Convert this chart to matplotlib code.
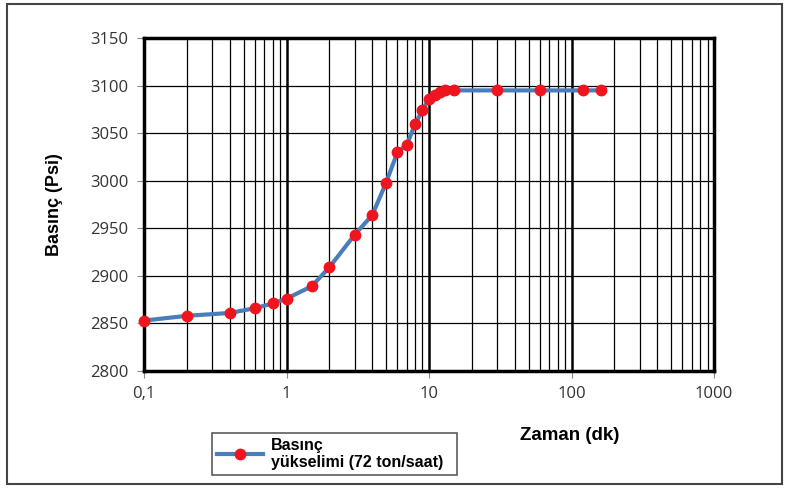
import matplotlib.pyplot as plt
import matplotlib.ticker as mticker
from matplotlib.patches import Rectangle

# time (min) vs pressure (psi) during pressure build-up
zaman = [0.1, 0.2, 0.4, 0.6, 0.8, 1, 1.5, 2, 3, 4, 5, 6, 7, 8, 9, 10, 11, 12, 13,
         15, 30, 60, 120, 160]
basinc = [2853, 2858, 2861, 2866, 2871, 2876, 2889, 2909, 2943, 2964, 2998, 3030,
          3038, 3060, 3074, 3086, 3090, 3093, 3095, 3095, 3095, 3095, 3095, 3095]

x_ticks = [0.1, 1, 10, 100, 1000]
x_tick_labels = ["0,1", "1", "10", "100", "1000"]
y_ticks = list(range(2800, 3151, 50))

fig = plt.figure(figsize=(7.89, 4.88), dpi=100)
ax = fig.add_axes([0.1825, 0.2398, 0.7225, 0.6822])

ax.plot(zaman, basinc, color="#4a7ebb", lw=3, marker="o", ms=7.5,
        mfc="#f0141e", mec="#f0141e", label="Basınç\nyükselimi (72 ton/saat)  ",
        zorder=5, clip_on=False)

ax.set_xscale("log")
ax.set_xlim(0.1, 1000)
ax.set_ylim(2800, 3150)
ax.set_xticks(x_ticks)
ax.set_xticklabels(x_tick_labels)
ax.xaxis.set_minor_locator(mticker.LogLocator(base=10, subs=range(2, 10)))
ax.xaxis.set_minor_formatter(mticker.NullFormatter())
ax.set_yticks(y_ticks)

# grid: heavier lines at decades
ax.grid(True, which="major", axis="x", color="black", lw=1.8)
ax.grid(True, which="minor", axis="x", color="black", lw=0.9)
ax.grid(True, which="major", axis="y", color="black", lw=0.9)

for s in ax.spines.values():
    s.set_linewidth(2.5)
    s.set_color("black")

ax.tick_params(axis="both", which="major", length=5, width=0.8, color="#888888",
               labelsize=12, labelcolor="#333333", pad=6)
ax.tick_params(axis="x", which="minor", length=0)
for lab in ax.get_xticklabels() + ax.get_yticklabels():
    lab.set_family("Open Sans")

ax.set_ylabel("Basınç (Psi)", fontsize=13, fontweight="bold", family="Liberation Sans",
              labelpad=20)
fig.text(0.722, 0.108, "Zaman (dk)", fontsize=13.5, fontweight="bold",
         family="Liberation Sans", ha="center", va="center")

leg = ax.legend(loc="upper left", bbox_to_anchor=(212 / 789, 1 - 433 / 488),
                bbox_transform=fig.transFigure, frameon=True, fancybox=False,
                borderaxespad=0, handlelength=2.9, handletextpad=0.5, borderpad=0.3,
                prop={"family": "Liberation Sans", "weight": "bold", "size": 11.5})
leg.get_frame().set_edgecolor("#333333")
leg.get_frame().set_linewidth(1.2)

# outer frame around the chart
fig.patches.append(Rectangle((0.009, 0.008), 0.982, 0.984, transform=fig.transFigure,
                             fill=False, edgecolor="#444444", lw=1.5))

fig.savefig("out.png", dpi=100)
